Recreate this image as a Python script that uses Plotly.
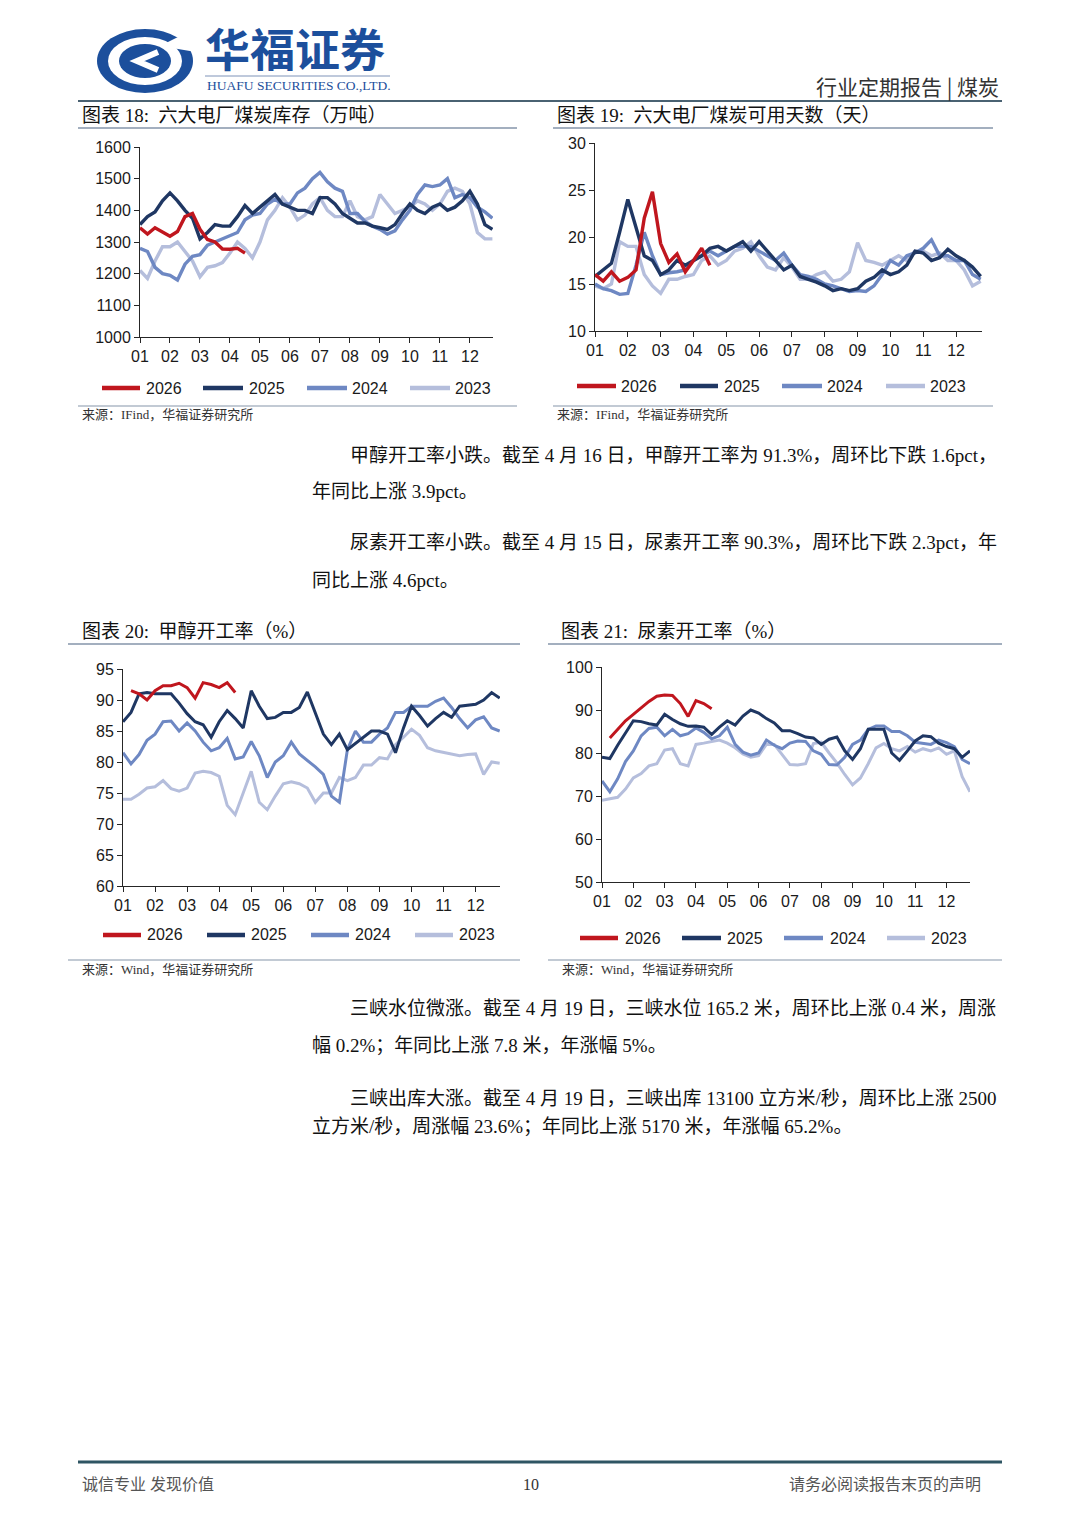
import plotly.graph_objects as go

W, H = 1080, 1527

# ---------------- data ----------------
MONTH_TICKS = list(range(1, 13))
MONTH_LABELS = ["01", "02", "03", "04", "05", "06", "07", "08", "09", "10", "11", "12"]
# weekly sampling positions, expressed in months (1 = start of January)
WEEK_X = [1 + 0.25 * i for i in range(48)]

YEARS = ["2026", "2025", "2024", "2023"]
COLORS = {"2026": "#C0161E", "2025": "#1F3763", "2024": "#6E88C3", "2023": "#B5BEDC"}

# Chart 18: coal inventory of six major power plants (10k tonnes)
stock_2026 = [1345, 1325, 1345, 1330, 1318, 1333, 1380, 1390, 1340, 1308, 1300, 1278, 1277, 1280, 1265]
stock_2025 = [1355, 1380, 1395, 1430, 1455, 1430, 1400, 1375, 1310, 1330, 1355, 1350, 1350, 1380, 1415, 1390,
              1410, 1430, 1450, 1420, 1410, 1400, 1400, 1390, 1440, 1440, 1420, 1390, 1375, 1360, 1360, 1350,
              1345, 1340, 1355, 1390, 1420, 1400, 1390, 1410, 1420, 1400, 1410, 1430, 1460, 1420, 1355, 1340]
stock_2024 = [1280, 1270, 1220, 1200, 1195, 1180, 1230, 1255, 1260, 1290, 1300, 1310, 1320, 1330, 1370, 1385,
              1390, 1420, 1435, 1420, 1420, 1455, 1470, 1500, 1520, 1490, 1470, 1460, 1390, 1390, 1365, 1350,
              1340, 1325, 1335, 1370, 1400, 1450, 1480, 1475, 1480, 1500, 1440, 1450, 1440, 1410, 1395, 1375]
stock_2023 = [1210, 1185, 1240, 1285, 1285, 1300, 1270, 1240, 1190, 1220, 1225, 1235, 1265, 1300, 1280, 1250,
              1300, 1370, 1400, 1440, 1410, 1370, 1385, 1420, 1440, 1400, 1380, 1380, 1430, 1380, 1370, 1380,
              1450, 1420, 1390, 1400, 1410, 1430, 1420, 1400, 1420, 1460, 1470, 1460, 1420, 1330, 1310, 1310]

# Chart 19: available days of coal
days_2026 = [16.0, 15.3, 16.3, 15.3, 15.7, 16.5, 22.0, 24.8, 19.3, 17.3, 18.2, 16.3, 17.5, 18.8, 17.0]
days_2025 = [15.8, 16.5, 17.2, 20.5, 24.0, 21.0, 18.0, 17.5, 16.0, 16.5, 17.5, 17.0, 17.5, 18.0, 18.8, 19.0,
             18.5, 19.0, 19.5, 18.5, 19.5, 18.5, 17.5, 16.5, 17.0, 15.8, 15.5, 15.2, 14.8, 14.3, 14.5, 14.3,
             14.5, 15.3, 15.7, 16.5, 16.0, 16.3, 17.0, 18.5, 18.3, 17.5, 17.8, 18.7, 18.0, 17.5, 16.8, 15.8]
days_2024 = [15.0, 14.5, 14.3, 13.9, 14.0, 17.0, 20.5, 18.0, 16.0, 16.2, 16.3, 16.5, 17.5, 18.0, 18.5, 18.0,
             18.5, 19.0, 19.0, 19.0, 18.5, 18.0, 17.5, 18.3, 17.0, 16.0, 15.8, 15.5, 15.0, 14.8, 14.5, 14.2,
             14.3, 14.2, 14.8, 16.0, 17.5, 17.0, 18.0, 18.3, 18.8, 19.7, 18.0, 18.0, 17.5, 17.5, 16.0, 15.5]
days_2023 = [14.8, 14.5, 15.0, 19.5, 19.0, 19.0, 16.0, 14.8, 14.0, 15.5, 15.5, 15.8, 16.0, 17.5, 18.0, 17.0,
             17.5, 18.5, 18.8, 19.5, 18.0, 16.8, 16.5, 17.8, 16.8, 15.5, 15.5, 16.0, 16.3, 15.3, 15.5, 16.3,
             19.4, 17.5, 17.3, 17.0, 17.5, 18.0, 17.5, 18.5, 18.5, 18.0, 18.3, 17.5, 17.5, 16.5, 14.8, 15.3]

# Chart 20: methanol operating rate (%)
meth_2026 = [None, 91.5, 91.0, 90.0, 91.5, 92.3, 92.3, 92.7, 92.0, 90.3, 92.8, 92.5, 92.0, 92.8, 91.2]
meth_2025 = [86.5, 88.0, 91.0, 91.2, 91.0, 91.0, 91.0, 89.5, 87.8, 86.5, 86.0, 84.0, 86.5, 88.3, 87.0, 85.5,
             91.5, 89.0, 87.0, 87.2, 88.0, 88.0, 88.8, 91.3, 88.0, 84.5, 82.8, 84.5, 82.0, 83.0, 84.0, 85.0,
             85.0, 84.5, 81.5, 85.5, 89.0, 87.5, 85.8, 87.0, 88.0, 87.2, 89.0, 89.2, 89.3, 90.0, 91.2, 90.3]
meth_2024 = [81.5, 79.7, 81.2, 83.5, 84.5, 86.5, 86.6, 85.0, 86.3, 85.0, 83.2, 81.8, 82.3, 83.8, 80.5, 80.8,
             83.3, 81.0, 77.5, 80.0, 81.0, 83.2, 81.3, 80.3, 79.2, 78.0, 74.5, 73.5, 82.0, 85.0, 83.2, 83.2,
             84.5, 85.5, 88.0, 88.0, 89.0, 89.0, 89.0, 89.8, 90.3, 88.8, 87.0, 85.5, 86.8, 87.3, 85.5, 85.0]
meth_2023 = [74.0, 74.0, 74.8, 75.8, 76.0, 77.0, 75.7, 75.3, 75.8, 78.2, 78.5, 78.3, 77.7, 73.0, 71.5, 75.0,
             78.5, 73.5, 72.3, 74.5, 76.5, 76.8, 76.5, 75.8, 73.5, 75.0, 75.0, 77.5, 77.0, 77.5, 79.5, 79.5,
             80.7, 80.5, 82.8, 84.0, 85.3, 84.3, 82.3, 81.8, 81.5, 81.2, 81.0, 81.2, 81.3, 78.0, 80.0, 79.8]

# Chart 21: urea operating rate (%)
urea_2026 = [None, 83.5, 85.5, 87.5, 89.0, 90.5, 92.0, 93.2, 93.5, 93.4, 91.5, 88.5, 92.2, 91.5, 90.3]
urea_2025 = [79.0, 78.7, 81.8, 84.6, 87.5, 87.3, 86.8, 86.5, 89.0, 87.8, 86.8, 86.2, 86.3, 86.0, 84.3, 86.0,
             87.5, 86.5, 88.6, 90.0, 89.3, 88.0, 87.0, 85.2, 85.2, 84.5, 83.7, 83.5, 82.0, 83.2, 83.7, 80.5,
             78.5, 81.0, 85.5, 85.5, 85.5, 80.0, 78.3, 80.5, 82.8, 84.0, 83.8, 82.3, 81.5, 81.0, 79.0, 80.5]
urea_2024 = [73.5, 71.0, 74.0, 78.0, 80.5, 84.0, 85.7, 86.0, 84.0, 85.5, 84.0, 84.5, 85.8, 84.8, 83.3, 84.0,
             86.0, 82.0, 80.2, 79.5, 80.0, 83.0, 81.8, 81.0, 82.3, 82.8, 82.7, 80.5, 79.7, 77.3, 77.2, 79.0,
             82.0, 83.0, 85.5, 86.3, 86.3, 85.0, 85.0, 84.0, 82.5, 82.2, 82.0, 83.0, 82.4, 81.5, 78.5, 77.5]
urea_2023 = [69.0, 69.4, 69.7, 71.6, 74.2, 75.2, 77.0, 77.5, 80.7, 81.0, 77.5, 77.0, 82.0, 82.3, 82.7, 83.0,
             82.3, 81.2, 79.8, 79.0, 79.4, 82.0, 82.0, 79.7, 77.3, 77.2, 77.5, 82.2, 82.5, 80.0, 77.7, 75.0,
             72.6, 74.2, 77.5, 81.2, 82.2, 81.0, 80.5, 81.5, 80.2, 81.0, 80.5, 81.2, 79.7, 80.5, 74.5, 71.0]

STOCK_TICKS = [1000, 1100, 1200, 1300, 1400, 1500, 1600]
DAYS_TICKS = [10, 15, 20, 25, 30]
METH_TICKS = [60, 65, 70, 75, 80, 85, 90, 95]
UREA_TICKS = [50, 60, 70, 80, 90, 100]

# ---------------- helpers ----------------
def fx(p):
    return p / W


def fy(p):
    return 1 - p / H


CN = "Noto Sans CJK SC"
SERIF_CN = "Liberation Serif, Noto Sans CJK SC"
SANS = "Arial, Liberation Sans, sans-serif"
AXIS_COLOR = "#262626"

charts = [
    dict(series={"2026": stock_2026, "2025": stock_2025, "2024": stock_2024, "2023": stock_2023},
         box=(140, 493, 147, 337), xend=12.77, ticks=STOCK_TICKS, lw=3.4,
         legend=[(102, 140, 144), (203, 243, 247), (307, 347, 350), (410, 450, 453)], ly=388),
    dict(series={"2026": days_2026, "2025": days_2025, "2024": days_2024, "2023": days_2023},
         box=(595, 982, 143, 331), xend=12.79, ticks=DAYS_TICKS, lw=3.4,
         legend=[(577, 616, 619), (680, 718, 722), (782, 822, 825), (886, 925, 928)], ly=386),
    dict(series={"2026": meth_2026, "2025": meth_2025, "2024": meth_2024, "2023": meth_2023},
         box=(123, 500, 669, 886), xend=12.76, ticks=METH_TICKS, lw=3.0,
         legend=[(103, 141, 145), (207, 245, 249), (311, 349, 353), (415, 453, 457)], ly=935),
    dict(series={"2026": urea_2026, "2025": urea_2025, "2024": urea_2024, "2023": urea_2023},
         box=(602, 970, 667, 882), xend=12.75, ticks=UREA_TICKS, lw=3.0,
         legend=[(580, 618, 623), (682, 721, 725), (784, 823, 828), (887, 925, 929)], ly=938),
]

fig = go.Figure()
layout = dict(width=W, height=H, margin=dict(l=0, r=0, t=0, b=0, pad=0), autosize=False,
              paper_bgcolor="white", plot_bgcolor="white", showlegend=False)
shapes = []
annotations = []

for i, ch in enumerate(charts, start=1):
    sfx = "" if i == 1 else str(i)
    x0, x1, ytop, ybot = ch["box"]
    for yr in ["2023", "2024", "2025", "2026"]:
        vals = ch["series"][yr]
        fig.add_trace(go.Scatter(
            x=WEEK_X[:len(vals)], y=vals, mode="lines", name=yr,
            line=dict(color=COLORS[yr], width=ch["lw"], shape="linear"),
            xaxis="x" + sfx, yaxis="y" + sfx, connectgaps=False, hoverinfo="skip"))
    common = dict(showline=True, linecolor=AXIS_COLOR, linewidth=1, ticks="outside", ticklen=5,
                  tickcolor=AXIS_COLOR, tickwidth=1, showgrid=False, zeroline=False, automargin=False,
                  tickfont=dict(family=SANS, size=16, color="#1a1a1a"), fixedrange=True)
    layout["xaxis" + sfx] = dict(common, domain=[fx(x0), fx(x1)], anchor="y" + sfx,
                                 range=[1, ch["xend"]], tickmode="array",
                                 tickvals=MONTH_TICKS, ticktext=MONTH_LABELS)
    layout["yaxis" + sfx] = dict(common, domain=[fy(ybot), fy(ytop)], anchor="x" + sfx,
                                 range=[ch["ticks"][0], ch["ticks"][-1]], tickmode="array",
                                 tickvals=ch["ticks"], ticktext=[str(t) for t in ch["ticks"]])
    # legend
    for yr, (sx0, sx1, tx) in zip(YEARS, ch["legend"]):
        shapes.append(dict(type="line", xref="paper", yref="paper", x0=fx(sx0), x1=fx(sx1),
                           y0=fy(ch["ly"]), y1=fy(ch["ly"]), line=dict(color=COLORS[yr], width=4.5)))
        annotations.append(dict(text=yr, xref="paper", yref="paper", x=fx(tx), y=fy(ch["ly"]),
                                xanchor="left", yanchor="middle", showarrow=False,
                                font=dict(family=SANS, size=16, color="#1a1a1a")))


def hline(x0, x1, y, color, width):
    shapes.append(dict(type="line", xref="paper", yref="paper", x0=fx(x0), x1=fx(x1),
                       y0=fy(y), y1=fy(y), line=dict(color=color, width=width)))


def text(s, x, y, size, color="#111111", family=SERIF_CN, xanchor="left", bold=False):
    annotations.append(dict(text=("<b>%s</b>" % s) if bold else s, xref="paper", yref="paper",
                            x=fx(x), y=fy(y), xanchor=xanchor, yanchor="middle", showarrow=False,
                            font=dict(family=family, size=size, color=color)))


# ---------------- header ----------------
BLUE = "#1C4F9C"
shapes.append(dict(type="circle", xref="paper", yref="paper", x0=fx(97), x1=fx(193), y0=fy(93), y1=fy(29),
                   fillcolor=BLUE, line=dict(width=0)))
shapes.append(dict(type="circle", xref="paper", yref="paper", x0=fx(108), x1=fx(182), y0=fy(85), y1=fy(37),
                   fillcolor="white", line=dict(width=0)))
shapes.append(dict(type="circle", xref="paper", yref="paper", x0=fx(119), x1=fx(171), y0=fy(78), y1=fy(44),
                   fillcolor=BLUE, line=dict(width=0)))
shapes.append(dict(type="path", xref="paper", yref="paper",
                   path="M %f %f L %f %f L %f %f Z" % (fx(160), fy(46), fx(196), fy(28), fx(196), fy(52)),
                   fillcolor="white", line=dict(width=0)))
shapes.append(dict(type="path", xref="paper", yref="paper",
                   path="M %f %f L %f %f L %f %f" % (fx(158), fy(52), fx(137), fy(61), fx(158), fy(70)),
                   line=dict(color="white", width=6)))

text("华福证券", 203, 48, 45, color=BLUE, family=CN, bold=True)
hline(205, 390, 76, "#7F93B8", 1)
text("HUAFU SECURITIES CO.,LTD.", 205, 86, 13.5, color=BLUE, family="Liberation Serif")
text("行业定期报告 | 煤炭", 1001, 86, 21, color="#333333", family=CN, xanchor="right")
hline(78, 1002, 101, "#4A6272", 2)

# ---------------- chart titles & sources ----------------
TITLE = 19
text("图表 18:  六大电厂煤炭库存（万吨）", 80, 116, TITLE)
text("图表 19:  六大电厂煤炭可用天数（天）", 555, 116, TITLE)
hline(78, 517, 128, "#8595AA", 1.5)
hline(553, 993, 128, "#8595AA", 1.5)
hline(78, 517, 406, "#8595AA", 1.2)
hline(553, 993, 406, "#8595AA", 1.2)
text("来源：IFind，华福证券研究所", 80, 414, 13, color="#333333")
text("来源：IFind，华福证券研究所", 555, 414, 13, color="#333333")

text("图表 20:  甲醇开工率（%）", 80, 631, TITLE)
text("图表 21:  尿素开工率（%）", 559, 631, TITLE)
hline(68, 520, 644, "#8595AA", 1.5)
hline(548, 1002, 644, "#8595AA", 1.5)
hline(68, 520, 960, "#8595AA", 1.2)
hline(548, 1002, 960, "#8595AA", 1.2)
text("来源：Wind，华福证券研究所", 80, 969, 13, color="#333333")
text("来源：Wind，华福证券研究所", 560, 969, 13, color="#333333")

# ---------------- body paragraphs ----------------
BODY = 19
text("甲醇开工率小跌。截至 4 月 16 日，甲醇开工率为 91.3%，周环比下跌 1.6pct，", 348, 455, BODY)
text("年同比上涨 3.9pct。", 310, 491, BODY)
text("尿素开工率小跌。截至 4 月 15 日，尿素开工率 90.3%，周环比下跌 2.3pct，年", 348, 542, BODY)
text("同比上涨 4.6pct。", 310, 580, BODY)
text("三峡水位微涨。截至 4 月 19 日，三峡水位 165.2 米，周环比上涨 0.4 米，周涨", 348, 1008, BODY)
text("幅 0.2%；年同比上涨 7.8 米，年涨幅 5%。", 310, 1045, BODY)
text("三峡出库大涨。截至 4 月 19 日，三峡出库 13100 立方米/秒，周环比上涨 2500", 348, 1098, BODY)
text("立方米/秒，周涨幅 23.6%；年同比上涨 5170 米，年涨幅 65.2%。", 310, 1126, BODY)

# ---------------- footer ----------------
hline(78, 1002, 1462, "#2E5563", 3)
text("诚信专业 发现价值", 80, 1484, 16, color="#555555")
text("10", 531, 1484, 16, color="#333333", xanchor="center")
text("请务必阅读报告末页的声明", 983, 1484, 16, color="#555555", xanchor="right")

layout["shapes"] = shapes
layout["annotations"] = annotations
fig.update_layout(**layout)
fig.write_html(
    "out.html",
    config={"responsive": False, "displayModeBar": False},
    post_script="document.documentElement.style.margin='0';document.body.style.margin='0';"
                "document.body.style.padding='0';document.body.style.overflow='hidden';",
)
